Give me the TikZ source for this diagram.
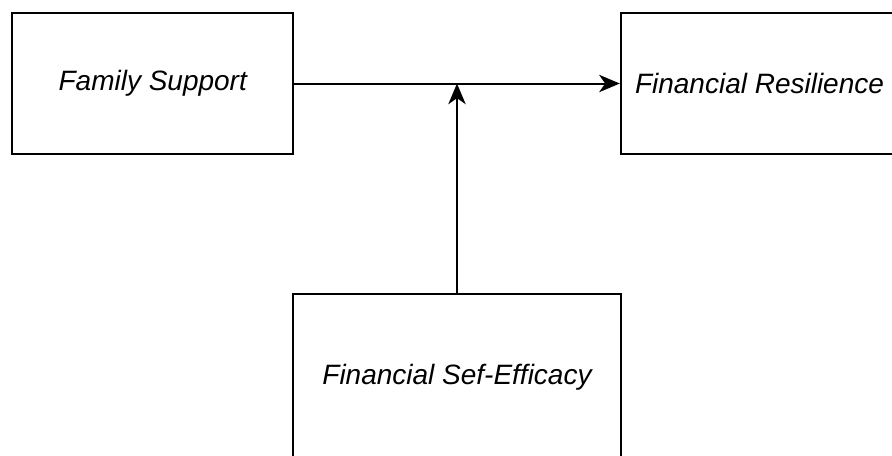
\documentclass[tikz,border=0pt]{standalone}
\usepackage{fontspec}
\setmainfont{Liberation Sans}
\usetikzlibrary{arrows.meta}

\begin{document}
\begin{tikzpicture}[x=0.75pt, y=-0.75pt,
    box/.style={draw, line width=1.5pt, minimum width=211pt, minimum height=105.75pt,
        inner sep=0pt, font=\fontsize{21}{25}\selectfont\itshape},
    link/.style={line width=1.5pt, -{Stealth[length=15.5pt, width=13pt, inset=4.5pt]}}]
			%%%%% START %%%%%
			
			\useasboundingbox (0, 0) rectangle (892, 455);
			\clip (0, 0) rectangle (892, 455);
			
			\node[box] (fam) at (152.75, 83.5) {Family Support};
			\node[box] (res) at (761.5, 83.5) {};
			\node[font=\fontsize{21}{25}\selectfont\itshape] (reslabel) at (759.5, 83.5) {Financial Resilience};
			\node[box, minimum width=246.4pt, minimum height=124.5pt] (eff) at (457, 377) {Financial Sef-Efficacy};
			
			\coordinate (meet) at (eff.north |- fam.east);
			
			\draw[link] (fam.east) -- (res.west);
			\draw[link] (eff.north) -- (meet);
			
			%%%%% END %%%%%
\end{tikzpicture}
\end{document}
